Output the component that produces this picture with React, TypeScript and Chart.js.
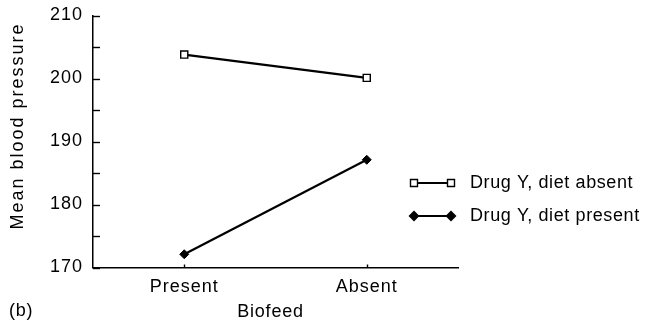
import React, { useEffect, useRef } from 'react';
import { Chart, registerables } from 'chart.js';

Chart.register(...registerables);

const categories = ['Present', 'Absent'];
const dietAbsent = [203.8, 200.1];
const dietPresent = [172.1, 187.1];
const seriesLabels = ['Drug Y, diet absent', 'Drug Y, diet present'];
const yMin = 170;
const yMax = 210;
const yStep = 5;
const xTitle = 'Biofeed';
const yTitle = 'Mean blood pressure';
const panelLabel = '(b)';

const FONT = '"Liberation Sans", Arial, Helvetica, sans-serif';
const INK = '#000000';

function drawMarker(ctx: CanvasRenderingContext2D, style: string, x: number, y: number) {
  ctx.save();
  ctx.lineWidth = 1.4;
  ctx.strokeStyle = INK;
  if (style === 'rect') {
    ctx.fillStyle = '#ffffff';
    ctx.beginPath();
    ctx.rect(x - 3.5, y - 3.5, 7, 7);
    ctx.fill();
    ctx.stroke();
  } else {
    ctx.fillStyle = INK;
    ctx.beginPath();
    ctx.moveTo(x - 4.5, y);
    ctx.lineTo(x, y - 4.5);
    ctx.lineTo(x + 4.5, y);
    ctx.lineTo(x, y + 4.5);
    ctx.closePath();
    ctx.fill();
    ctx.stroke();
  }
  ctx.restore();
}

const decor = {
  id: 'decor',
  beforeDraw(chart: any) {
    (chart.ctx as any).letterSpacing = '1px';
  },
  afterDraw(chart: any) {
    const { ctx, chartArea, scales } = chart;
    const ys = scales.y;
    const xs = scales.x;
    ctx.save();
    ctx.strokeStyle = INK;
    ctx.lineWidth = 1.4;
    // inward y ticks
    ys.ticks.forEach((t: any) => {
      const py = Math.round(ys.getPixelForValue(t.value)) + 0.5;
      ctx.beginPath();
      ctx.moveTo(chartArea.left, py);
      ctx.lineTo(chartArea.left + 7, py);
      ctx.stroke();
    });
    // small x ticks
    categories.forEach((_c, i) => {
      const px = Math.round(xs.getPixelForValue(i)) + 0.5;
      ctx.beginPath();
      ctx.moveTo(px, chartArea.bottom);
      ctx.lineTo(px, chartArea.bottom - 3);
      ctx.stroke();
    });

    ctx.fillStyle = INK;
    ctx.font = `18px ${FONT}`;
    (ctx as any).letterSpacing = '0.8px';
    // x title
    ctx.textAlign = 'center';
    ctx.textBaseline = 'middle';
    ctx.fillText(xTitle, (chartArea.left + chartArea.right) / 2 - 5, 312);
    // panel label
    ctx.textAlign = 'left';
    ctx.fillText(panelLabel, 9, 311);
    // y title
    ctx.save();
    ctx.translate(18, 126);
    ctx.rotate(-Math.PI / 2);
    (ctx as any).letterSpacing = '2px';
    ctx.textAlign = 'center';
    ctx.textBaseline = 'middle';
    ctx.fillText(yTitle, 0, 0);
    ctx.restore();

    // legend
    const styles = ['rect', 'rectRot'];
    const rows = [183, 216];
    seriesLabels.forEach((lab, i) => {
      const ry = rows[i];
      ctx.save();
      ctx.strokeStyle = INK;
      ctx.lineWidth = 2.2;
      ctx.beginPath();
      ctx.moveTo(414, ry);
      ctx.lineTo(451, ry);
      ctx.stroke();
      ctx.restore();
      drawMarker(ctx, styles[i], 414, ry);
      drawMarker(ctx, styles[i], 451, ry);
      ctx.fillStyle = INK;
      (ctx as any).letterSpacing = '0.6px';
      ctx.textAlign = 'left';
      ctx.textBaseline = 'middle';
      ctx.fillText(lab, 470, ry);
    });
    ctx.restore();
  },
};

export default function App() {
  const ref = useRef<HTMLCanvasElement>(null);
  useEffect(() => {
    if (!ref.current) return;
    const chart = new Chart(ref.current, {
      type: 'line',
      data: {
        labels: categories,
        datasets: [
          {
            label: seriesLabels[0],
            data: dietAbsent,
            borderColor: INK,
            borderWidth: 2.2,
            pointStyle: 'rect',
            pointRadius: 5,
            pointBackgroundColor: '#ffffff',
            pointBorderColor: INK,
            pointBorderWidth: 1.4,
            fill: false,
          },
          {
            label: seriesLabels[1],
            data: dietPresent,
            borderColor: INK,
            borderWidth: 2.2,
            pointStyle: 'rectRot',
            pointRadius: 4.5,
            pointBackgroundColor: INK,
            pointBorderColor: INK,
            pointBorderWidth: 1,
            fill: false,
          },
        ],
      },
      options: {
        responsive: false,
        animation: false,
        events: [],
        layout: { padding: { left: 0, top: 15.5, right: 195, bottom: 0 } },
        plugins: { legend: { display: false }, tooltip: { enabled: false } },
        scales: {
          x: {
            type: 'category',
            offset: true,
            grid: { display: true, drawOnChartArea: false, drawTicks: false },
            border: { display: true, color: INK, width: 1.5 },
            ticks: {
              color: INK,
              padding: 9,
              font: { family: FONT, size: 18 },
            },
            afterFit: (s: any) => {
              s.height = 57.5;
              s.paddingLeft = 0;
              s.paddingRight = 0;
            },
          },
          y: {
            min: yMin,
            max: yMax,
            grid: { display: true, drawOnChartArea: false, drawTicks: false },
            border: { display: true, color: INK, width: 1.5 },
            ticks: {
              stepSize: yStep,
              color: INK,
              padding: 10,
              font: { family: FONT, size: 18 },
              callback: (v: any) => (Number(v) % 10 === 0 ? String(v) : ''),
            },
            afterFit: (s: any) => {
              s.width = 93;
              s.paddingTop = 0;
              s.paddingBottom = 0;
            },
          },
        },
      },
      plugins: [decor],
    });
    return () => chart.destroy();
  }, []);
  return (
    <div style={{ position: 'absolute', left: 0, top: 0, width: 653, height: 325, background: '#fff' }}>
      <canvas ref={ref} width={653} height={325} style={{ display: 'block', width: 653, height: 325 }} />
    </div>
  );
}
